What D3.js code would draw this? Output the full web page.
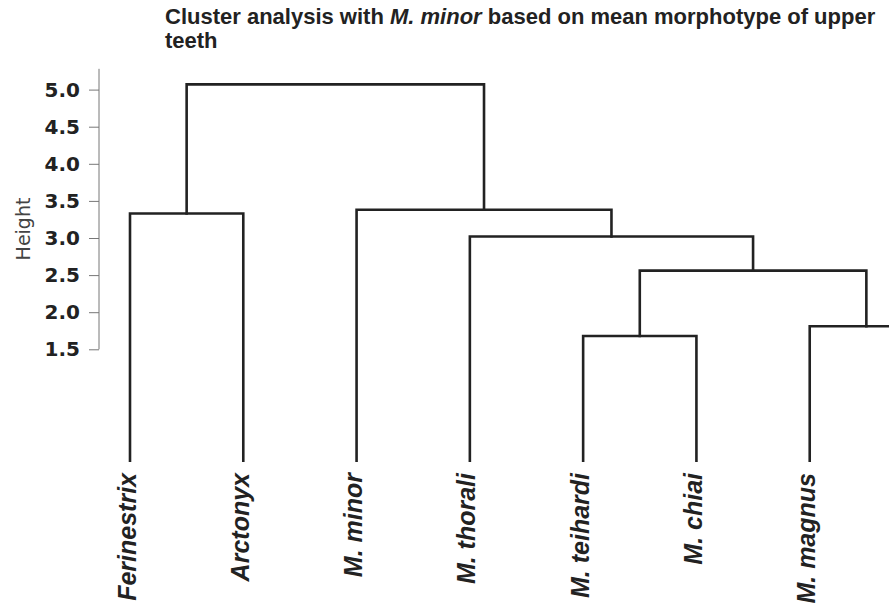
<!DOCTYPE html>
<html>
<head>
<meta charset="utf-8">
<script src="https://cdn.jsdelivr.net/npm/d3@7"></script>
<style>
  html, body { margin: 0; padding: 0; background: #fff; }
  svg { display: block; }
</style>
</head>
<body>
<svg id="chart" width="889" height="616"></svg>
<script>
// ---- data ----
const leaves = ["Ferinestrix", "Arctonyx", "M. minor", "M. thorali", "M. teihardi", "M. chiai", "M. magnus", "M. meles"];
// R-style merge matrix: negative = leaf index (1-based), positive = earlier merge step
const mergeLeft  = [-5, -7, 1, -4, -1, -3, 5];
const mergeRight = [-6, -8, 2,  3, -2,  4, 6];
const mergeHeight = [1.68, 1.81, 2.56, 3.02, 3.33, 3.38, 5.07];
const yTicks = [1.5, 2.0, 2.5, 3.0, 3.5, 4.0, 4.5, 5.0];
const leafHeight = 0;
const axisTop = 5.28;

const W = 889;
const svg = d3.select("#chart");

const x = d3.scalePoint().domain(leaves).range([130, 923]);
const y = d3.scaleLinear().domain([1.5, 5.0]).range([349.3, 89.6]);

// Title (two lines as separate text elements)
const titleFont = s => s
  .attr("font-family", "Liberation Sans, Arial, sans-serif")
  .attr("font-weight", "bold")
  .attr("font-size", 22)
  .attr("fill", "#222");
const t1 = svg.append("text").attr("x", 165).attr("y", 23.5).call(titleFont);
t1.append("tspan").text("Cluster analysis with ");
t1.append("tspan").attr("font-style", "italic").text("M. minor");
t1.append("tspan").text(" based on mean morphotype of upper");
svg.append("text").attr("x", 165).attr("y", 48).call(titleFont).text("teeth");

// Y axis
const axisG = svg.append("g").attr("transform", "translate(99,0)");
axisG.call(d3.axisLeft(y).tickValues(yTicks).tickFormat(d3.format(".1f")).tickSize(10).tickPadding(9));
axisG.select(".domain").remove();
axisG.append("line")
  .attr("x1", 0).attr("x2", 0)
  .attr("y1", y(axisTop)).attr("y2", y(1.5))
  .attr("stroke", "#777").attr("stroke-width", 1);
axisG.selectAll(".tick line").attr("stroke", "#777");
axisG.selectAll(".tick text")
  .attr("font-family", "DejaVu Sans, sans-serif")
  .attr("font-weight", "bold")
  .attr("font-size", 20)
  .attr("fill", "#222");

svg.append("text")
  .attr("transform", `translate(30,229) rotate(-90)`)
  .attr("text-anchor", "middle")
  .attr("font-family", "DejaVu Sans, sans-serif")
  .attr("font-size", 19)
  .attr("fill", "#444")
  .text("Height");

// Dendrogram
const nodeX = [];
function pos(ref) {
  if (ref < 0) return { x: x(leaves[-ref - 1]), h: leafHeight };
  return { x: nodeX[ref - 1], h: mergeHeight[ref - 1] };
}
const g = svg.append("g")
  .attr("fill", "none")
  .attr("stroke", "#222")
  .attr("stroke-width", 2.6)
  .attr("stroke-linejoin", "miter")
  .attr("stroke-linecap", "square");

mergeHeight.forEach((h, i) => {
  const a = pos(mergeLeft[i]);
  const b = pos(mergeRight[i]);
  nodeX[i] = (a.x + b.x) / 2;
  const p = d3.path();
  p.moveTo(a.x, y(a.h));
  p.lineTo(a.x, y(h));
  p.lineTo(b.x, y(h));
  p.lineTo(b.x, y(b.h));
  g.append("path").attr("d", p.toString());
});

// Leaf labels (the last leaf lies beyond the right edge of the picture, as in the original crop)
svg.append("g").selectAll("text")
  .data(leaves.filter(d => x(d) < W - 20))
  .join("text")
  .attr("transform", d => `translate(${x(d)},473) rotate(-90)`)
  .attr("dy", "0.22em")
  .attr("text-anchor", "end")
  .attr("font-family", "Liberation Sans, Arial, sans-serif")
  .attr("font-weight", "bold")
  .attr("font-style", "italic")
  .attr("font-size", 25)
  .attr("fill", "#222")
  .text(d => d);
</script>
</body>
</html>
